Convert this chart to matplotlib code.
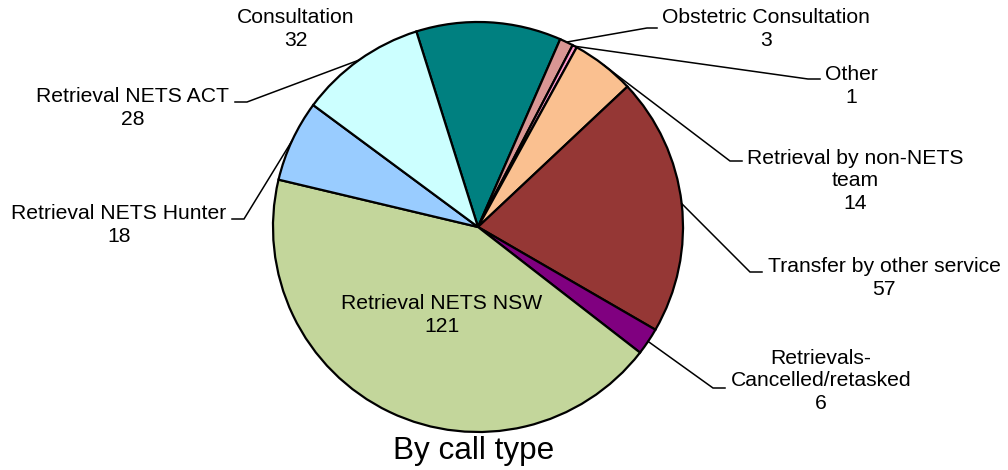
import matplotlib
matplotlib.use('Agg')
import matplotlib.pyplot as plt
import numpy as np

plt.rcParams['font.family'] = ['Liberation Sans', 'DejaVu Sans']

categories = ['Consultation', 'Obstetric Consultation', 'Other',
              'Retrieval by non-NETS\nteam', 'Transfer by other service',
              'Retrievals-\nCancelled/retasked', 'Retrieval NETS NSW',
              'Retrieval NETS Hunter', 'Retrieval NETS ACT']
values = [32, 3, 1, 14, 57, 6, 121, 18, 28]
colors = ['#008080', '#D99694', '#FF99CC', '#FAC090', '#953735',
          '#800080', '#C3D69B', '#99CCFF', '#CCFFFF']
title = 'By call type'

# layout (pixel coords, y down)
W, H = 1008, 470
label_pos = [(296, 29), (766, 29), (851, 86), (855, 181), (884, 278),
             (821, 381), (442, 315), (119, 225), (133, 108)]
leaders = {1: ((647, 28), (657, 28)), 2: ((808, 79), (820, 79)),
           3: ((730, 161), (742, 161)), 4: ((750, 272), (762, 272)),
           5: ((713, 388), (725, 388)), 7: ((244, 219), (232, 219)),
           8: ((247, 102), (235, 102))}

fig = plt.figure(figsize=(W / 100, H / 100), dpi=100)
ax = fig.add_axes([0, 0, 1, 1])
cx, cy, R = 478, H - 227, 205
wedges, _ = ax.pie(values, colors=colors, startangle=107.5, counterclock=False,
                   center=(cx, cy), radius=R, frame=True,
                   wedgeprops=dict(edgecolor='black', linewidth=1.6))
ax.set_xlim(0, W)
ax.set_ylim(0, H)
ax.axis('off')

for i, (cat, val) in enumerate(zip(categories, values)):
    lx, ly = label_pos[i]
    ax.text(lx, H - ly, f'{cat}\n{val}', ha='center', va='center',
            multialignment='center', fontsize=15.2, linespacing=1.22)
    if i in leaders:
        w = wedges[i]
        ang = np.deg2rad((w.theta1 + w.theta2) / 2)
        ax_, ay_ = cx + R * np.cos(ang), cy + R * np.sin(ang)
        (kx, ky), (ex, ey) = leaders[i]
        ax.plot([ax_, kx, ex], [ay_, H - ky, H - ey], color='black', lw=1.1,
                solid_joinstyle='miter')

ax.text(474, H - 451, title, ha='center', va='center', fontsize=22.7)

fig.savefig('out.png', dpi=100)
